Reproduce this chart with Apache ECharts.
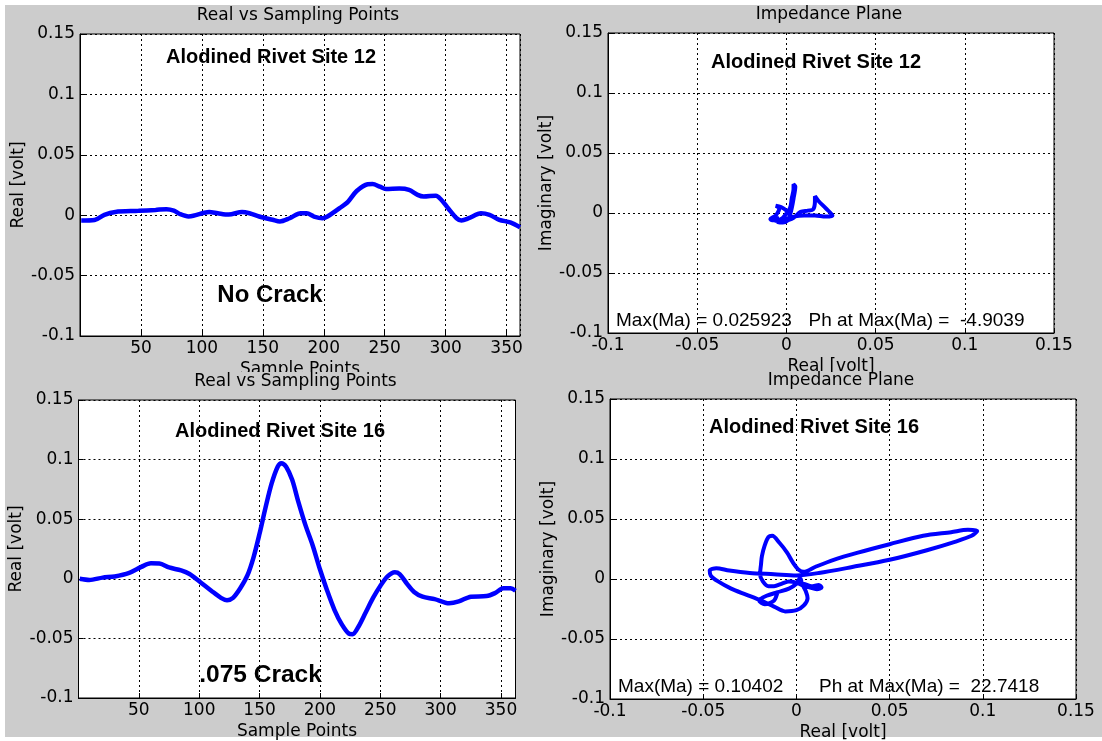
<!DOCTYPE html>
<html>
<head>
<meta charset="utf-8">
<script src="https://cdn.jsdelivr.net/npm/echarts@6/dist/echarts.min.js"></script>
<style>
html,body{margin:0;padding:0;background:#fff;}
#chart{width:1102px;height:741px;}
</style>
</head>
<body>
<div id="chart"></div>
<script>
// ---- Data ----
// Site 12: real part vs sample points
const s12Sample = [1, 12, 20, 29, 48, 62, 71, 77, 82, 89, 93, 102, 106, 113, 122, 133, 139, 147, 158, 164, 172, 181, 186, 192, 199, 203, 213, 220, 227, 236, 240, 246, 251, 262, 270, 277, 282, 292, 296, 302, 309, 313, 319, 329, 336, 344, 353, 361];
const s12Real = [-0.0044, -0.004, 0.0003, 0.0027, 0.0036, 0.0044, 0.005, 0.0038, 0.001, -0.001, -0.0005, 0.002, 0.0027, 0.0016, 0.0005, 0.0027, 0.0016, -0.0011, -0.0038, -0.0052, -0.0025, 0.0016, 0.0016, -0.0011, -0.0025, -0.0011, 0.0058, 0.0113, 0.020, 0.0256, 0.0258, 0.0236, 0.0217, 0.022, 0.0209, 0.0168, 0.0154, 0.0162, 0.0132, 0.0058, -0.0025, -0.0044, -0.0025, 0.0016, 0.0003, -0.0038, -0.006, -0.0099];

// Site 16: real part vs sample points
const s16Sample = [1, 9, 20, 30, 42, 52, 60, 67, 75, 85, 92, 100, 110, 118, 123, 128, 134, 140, 145, 150, 155, 160, 165, 168, 172, 177, 182, 188, 194, 200, 206, 212, 218, 224, 227, 232, 238, 244, 250, 256, 262, 266, 272, 278, 285, 295, 307, 315, 325, 338, 345, 352, 358, 362];
const s16Real = [0.0, -0.001, 0.001, 0.002, 0.005, 0.010, 0.013, 0.0128, 0.0095, 0.007, 0.004, -0.002, -0.010, -0.016, -0.018, -0.016, -0.008, 0.003, 0.018, 0.038, 0.060, 0.080, 0.094, 0.097, 0.094, 0.083, 0.065, 0.045, 0.028, 0.008, -0.010, -0.026, -0.038, -0.046, -0.0465, -0.040, -0.028, -0.016, -0.006, 0.002, 0.0055, 0.004, -0.004, -0.011, -0.015, -0.017, -0.0205, -0.019, -0.015, -0.0145, -0.012, -0.008, -0.008, -0.010];

// Site 12: impedance plane trajectory
const imp12Re = [-0.004, -0.008, -0.009, -0.006, -0.004, -0.006, -0.003, 0.000, 0.002, 0.001, -0.002, -0.005, -0.002, 0.002, 0.003, 0.004, 0.004, 0.005, 0.004, 0.003, 0.002, 0.001, 0.004, 0.008, 0.012, 0.015, 0.016, 0.016, 0.018, 0.022, 0.0258, 0.022, 0.016, 0.010, 0.004, 0.000, -0.004, -0.009];
const imp12Im = [-0.004, -0.006, -0.005, -0.002, 0.004, 0.006, 0.005, 0.002, -0.002, -0.006, -0.008, -0.007, -0.004, 0.004, 0.012, 0.020, 0.024, 0.022, 0.012, 0.004, -0.002, -0.006, -0.004, 0.001, 0.002, 0.003, 0.010, 0.014, 0.010, 0.004, -0.0022, -0.003, -0.002, -0.002, -0.003, -0.005, -0.007, -0.005];

// Site 16: impedance plane trajectory
const imp16Re = [0.000, 0.004, 0.008, 0.012, 0.0135, 0.011, 0.007, 0.003, 0.000, -0.004, -0.008, -0.012, -0.015, -0.018, -0.0195, -0.019, -0.0185, -0.017, -0.015, -0.013, -0.009, -0.005, -0.002, 0.001, 0.004, 0.010, 0.020, 0.033, 0.050, 0.068, 0.083, 0.092, 0.097, 0.094, 0.085, 0.070, 0.050, 0.030, 0.012, 0.000, -0.012, -0.025, -0.036, -0.043, -0.0465, -0.046, -0.042, -0.035, -0.027, -0.019, -0.012, -0.006, 0.000, 0.004, 0.006, 0.005, 0.003, 0.002, 0.000, -0.004, -0.010, -0.016, -0.020, -0.017, -0.012, -0.010];
const imp16Im = [-0.002, -0.004, -0.006, -0.005, -0.007, -0.0085, -0.007, -0.005, -0.003, -0.002, -0.004, -0.006, -0.006, -0.002, 0.004, 0.012, 0.019, 0.028, 0.035, 0.036, 0.030, 0.022, 0.014, 0.008, 0.006, 0.010, 0.016, 0.022, 0.029, 0.036, 0.039, 0.041, 0.040, 0.036, 0.031, 0.024, 0.016, 0.010, 0.005, 0.003, 0.004, 0.005, 0.007, 0.009, 0.007, 0.003, -0.002, -0.008, -0.013, -0.018, -0.023, -0.027, -0.026, -0.022, -0.016, -0.010, -0.004, 0.001, -0.004, -0.008, -0.011, -0.014, -0.018, -0.021, -0.018, -0.010];

const valueTicksMin = -0.1, valueTicksMax = 0.15, valueTicksStep = 0.05;
const sampleTicksStep = 50;

const panelTitles = ['Real vs Sampling Points', 'Impedance Plane', 'Real vs Sampling Points', 'Impedance Plane'];
const siteLabels = ['Alodined Rivet Site 12', 'Alodined Rivet Site 12', 'Alodined Rivet Site 16', 'Alodined Rivet Site 16'];
const crackLabels = ['No Crack', '.075 Crack'];
const maxTexts = [['Max(Ma) = 0.025923', 'Ph at Max(Ma) =  -4.9039'], ['Max(Ma) = 0.10402', 'Ph at Max(Ma) =  22.7418']];

function pairs(xs, ys) { return xs.map((x, i) => [x, ys[i]]); }

// ---- Layout ----
const GRAY = '#cccccc';
const grids = [
  {left: 80, top: 34, width: 440, height: 302},
  {left: 608, top: 33, width: 446, height: 300},
  {left: 78.5, top: 400, width: 437, height: 298},
  {left: 610, top: 399, width: 466, height: 300}
];
const zBase = [0, 0, 10, 10];
const tickFont = {fontFamily: 'DejaVu Sans', fontSize: 17, color: '#000'};

function axisCommon(i) {
  return {
    gridIndex: i,
    type: 'value',
    z: zBase[i] + 2,
    axisLine: {show: true, onZero: false, lineStyle: {color: '#000', width: 1}},
    axisTick: {show: true, inside: true, length: 5, lineStyle: {color: '#000'}},
    splitLine: {show: true, lineStyle: {color: '#000', type: [2, 3], width: 1}},
    axisLabel: Object.assign({margin: 5}, tickFont),
    nameLocation: 'middle',
    nameTextStyle: tickFont
  };
}

const xAxes = [], yAxes = [];
for (let i = 0; i < 4; i++) {
  const isImp = (i % 2 === 1);
  const xa = axisCommon(i);
  if (isImp) {
    Object.assign(xa, {min: valueTicksMin, max: valueTicksMax, interval: valueTicksStep, name: 'Real [volt]', nameGap: 25});
  } else {
    Object.assign(xa, {min: 0, max: i === 0 ? 361 : 362, interval: sampleTicksStep, name: 'Sample Points', nameGap: 25});
    xa.axisLabel = Object.assign({}, xa.axisLabel, {showMinLabel: false, showMaxLabel: false});
  }
  xa.axisLabel.margin = 4;
  xAxes.push(xa);
  const ya = axisCommon(i);
  Object.assign(ya, {min: valueTicksMin, max: valueTicksMax, interval: valueTicksStep,
    name: isImp ? 'Imaginary [volt]' : 'Real [volt]', nameGap: 53});
  yAxes.push(ya);
}

const lineStyleFor = (w) => ({color: '#0000ff', width: w});
const series = [
  {type: 'line', xAxisIndex: 0, yAxisIndex: 0, data: pairs(s12Sample, s12Real), smooth: 0.3, showSymbol: false, lineStyle: lineStyleFor(4.5), z: 3},
  {type: 'line', xAxisIndex: 1, yAxisIndex: 1, data: pairs(imp12Re, imp12Im), smooth: 0.3, showSymbol: false, lineStyle: lineStyleFor(4), z: 3},
  {type: 'line', xAxisIndex: 2, yAxisIndex: 2, data: pairs(s16Sample, s16Real), smooth: 0.3, showSymbol: false, lineStyle: lineStyleFor(4.5), z: 13},
  {type: 'line', xAxisIndex: 3, yAxisIndex: 3, data: pairs(imp16Re, imp16Im), smooth: 0.3, showSymbol: false, lineStyle: lineStyleFor(4), z: 13}
];

function txt(text, x, y, opt) {
  opt = opt || {};
  return {
    type: 'text', x: x, y: y, z: opt.z || 5, silent: true,
    style: {
      text: text,
      fill: '#000',
      fontFamily: opt.family || 'DejaVu Sans',
      fontSize: opt.size || 17,
      fontWeight: opt.weight || 'normal',
      align: opt.align || 'center', textAlign: opt.align || 'center',
      verticalAlign: 'middle', textVerticalAlign: 'middle'
    }
  };
}

const graphics = [
  {type: 'rect', shape: {x: 5, y: 5, width: 1097, height: 367}, style: {fill: GRAY}, z: -10, silent: true},
  {type: 'rect', shape: {x: 5, y: 372, width: 1097, height: 365}, style: {fill: GRAY}, z: 10, silent: true},
  txt(panelTitles[0], 298, 16, {z: 5}),
  txt(panelTitles[1], 829, 15, {z: 5}),
  txt(panelTitles[2], 295.5, 382, {z: 15}),
  txt(panelTitles[3], 841, 381, {z: 15}),
  txt(siteLabels[0], 271, 57, {z: 5, family: 'Liberation Sans', weight: 'bold', size: 20}),
  txt(siteLabels[1], 816, 62, {z: 5, family: 'Liberation Sans', weight: 'bold', size: 20}),
  txt(siteLabels[2], 280, 431, {z: 15, family: 'Liberation Sans', weight: 'bold', size: 20}),
  txt(siteLabels[3], 814, 427, {z: 15, family: 'Liberation Sans', weight: 'bold', size: 20}),
  txt(crackLabels[0], 270, 295, {z: 5, family: 'Liberation Sans', weight: 'bold', size: 24}),
  txt(crackLabels[1], 260.5, 675, {z: 15, family: 'Liberation Sans', weight: 'bold', size: 24.5}),
  txt(maxTexts[0][0], 616, 321, {z: 5, family: 'Liberation Sans', size: 19, align: 'left'}),
  txt(maxTexts[0][1], 808.5, 321, {z: 5, family: 'Liberation Sans', size: 19, align: 'left'}),
  txt(maxTexts[1][0], 618, 687, {z: 15, family: 'Liberation Sans', size: 19, align: 'left'}),
  txt(maxTexts[1][1], 819, 687, {z: 15, family: 'Liberation Sans', size: 19, align: 'left'})
];

const chart = echarts.init(document.getElementById('chart'), null, {renderer: 'canvas'});
chart.setOption({
  animation: false,
  backgroundColor: '#ffffff',
  grid: grids.map((g, i) => Object.assign({
    show: true, backgroundColor: '#ffffff', borderColor: '#000', borderWidth: 1,
    containLabel: false, outerBoundsMode: 'none', z: zBase[i] + 1
  }, g)),
  xAxis: xAxes,
  yAxis: yAxes,
  series: series,
  graphic: {elements: graphics}
});
</script>
</body>
</html>
